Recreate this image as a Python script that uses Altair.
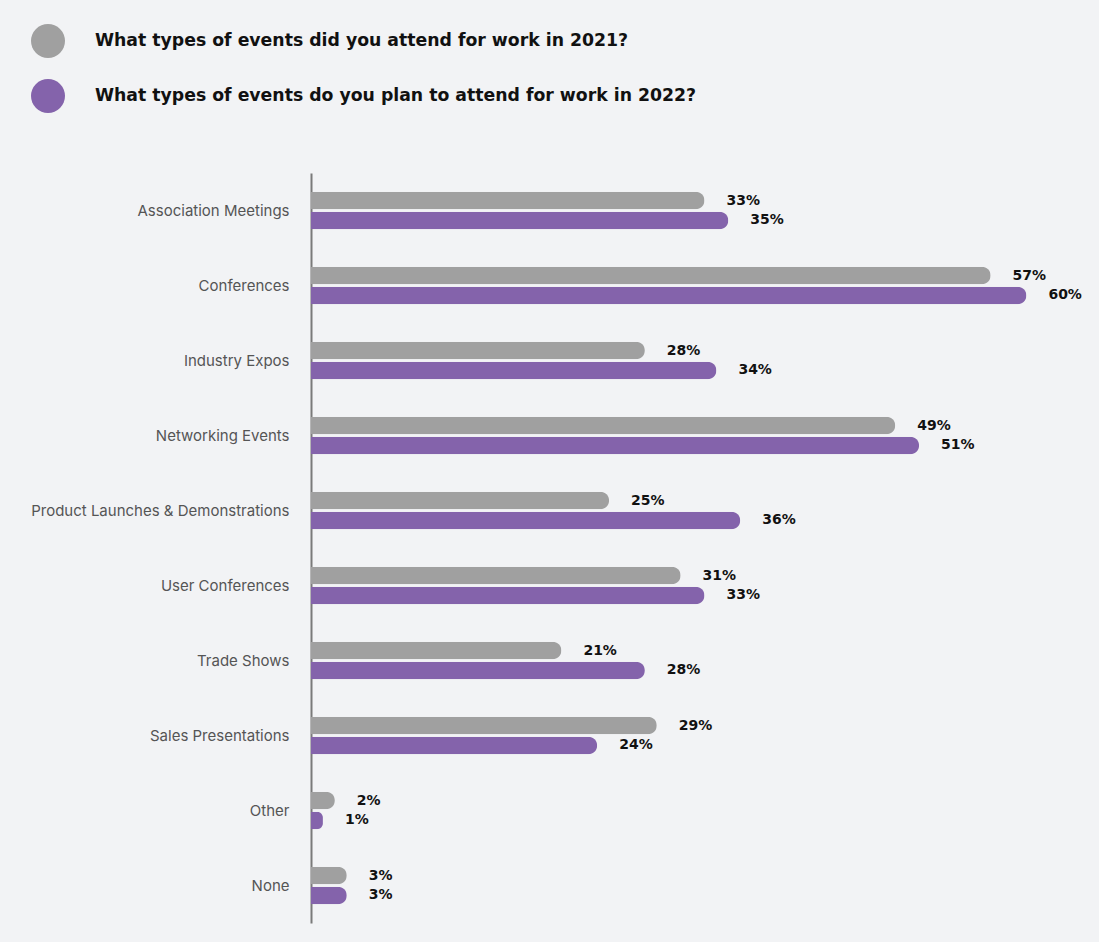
import altair as alt
import pandas as pd

categories = [
    "Association Meetings", "Conferences", "Industry Expos", "Networking Events",
    "Product Launches & Demonstrations", "User Conferences", "Trade Shows",
    "Sales Presentations", "Other", "None",
]
series = [
    "What types of events did you attend for work in 2021?",
    "What types of events do you plan to attend for work in 2022?",
]
values_2021 = [33, 57, 28, 49, 25, 31, 21, 29, 2, 3]
values_2022 = [35, 60, 34, 51, 36, 33, 28, 24, 1, 3]
colors = ["#a0a0a0", "#8463ab"]

rows = []
for c, a, b in zip(categories, values_2021, values_2022):
    rows.append({"category": c, "series": series[0], "value": a, "label": f"{a}%"})
    rows.append({"category": c, "series": series[1], "value": b, "label": f"{b}%"})
df = pd.DataFrame(rows)

base = alt.Chart(df).encode(
    y=alt.Y("category:N", sort=categories, title=None,
            scale=alt.Scale(paddingInner=0.5, paddingOuter=0.25),
            axis=alt.Axis(domain=True, domainColor="#7a7a7a", domainWidth=2,
                          ticks=False, labelPadding=22, labelFontSize=15,
                          labelColor="#555555", labelFont="Inter", grid=False,
                          labelLimit=400)),
    yOffset=alt.YOffset("series:N", sort=series,
                        scale=alt.Scale(paddingInner=0.12, paddingOuter=0)),
    x=alt.X("value:Q", scale=alt.Scale(domain=[0, 65]), axis=None),
)

bars = base.mark_bar(cornerRadiusEnd=9).encode(
    color=alt.Color("series:N", sort=series,
                    scale=alt.Scale(domain=series, range=colors),
                    legend=alt.Legend(title=None, orient="none", legendX=-280, legendY=-149,
                                      symbolType="circle", symbolSize=1156,
                                      symbolStrokeWidth=0, labelFontSize=17.3,
                                      labelFont="DejaVu Sans", labelFontWeight="bold",
                                      labelColor="#111111", labelOffset=30,
                                      rowPadding=21, labelLimit=800))
)

text = base.mark_text(align="left", baseline="middle", dx=22, fontSize=14,
                      font="DejaVu Sans", fontWeight="bold", color="#111111").encode(
    text="label:N"
)

chart = alt.layer(bars, text).properties(
    width=775, height=750,
    padding={"left": 311, "top": 173, "right": 13, "bottom": 19},
    autosize=alt.AutoSizeParams(type="none"),
    background="#f2f3f5",
).configure_view(stroke=None)

chart.save("out.html", embed_options={"renderer": "svg", "actions": False})
